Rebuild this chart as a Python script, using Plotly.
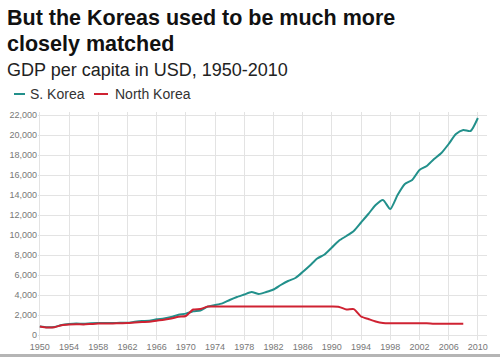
import plotly.graph_objects as go

sk_years = list(range(1950, 2011))
sk_gdp = [850, 770, 800, 1000, 1100, 1150, 1120, 1170, 1190, 1190,
          1200, 1220, 1230, 1320, 1390, 1430, 1570, 1650, 1800, 2030,
          2140, 2380, 2450, 2840, 2990, 3160, 3500, 3800, 4050, 4300,
          4100, 4300, 4550, 5000, 5400, 5700, 6300, 6950, 7650, 8050,
          8750, 9450, 9900, 10400, 11250, 12100, 13000, 13500, 12600, 14000,
          15100, 15500, 16500, 16900, 17600, 18200, 19100, 20100, 20500, 20400,
          21700]

nk_years = list(range(1950, 2009))
nk_gdp = [850, 750, 780, 980, 1050, 1080, 1060, 1100, 1140, 1150,
          1160, 1180, 1190, 1250, 1300, 1330, 1430, 1520, 1640, 1820,
          1900, 2550, 2600, 2840, 2840, 2840, 2840, 2840, 2840, 2840,
          2840, 2840, 2840, 2840, 2840, 2840, 2840, 2840, 2840, 2840,
          2840, 2810, 2560, 2590, 1850, 1600, 1350, 1200, 1170, 1170,
          1170, 1170, 1170, 1170, 1120, 1120, 1120, 1120, 1120]

x_ticks = list(range(1950, 2011, 4))
y_ticks = list(range(0, 22001, 2000))

title_lines = ["But the Koreas used to be much more", "closely matched"]
subtitle = "GDP per capita in USD, 1950-2010"
sk_name = "S. Korea"
nk_name = "North Korea"

SK_COLOR = "#22908b"
NK_COLOR = "#cf2232"
FONT = "Liberation Sans, Arial, Helvetica, sans-serif"

W, H = 500, 358
ML, MR, MT, MB = 38, 13, 112, 18
PH = H - MT - MB
PW = W - ML - MR


def py(pix):
    return (H - MB - pix) / PH


def px(pix):
    return (pix - ML) / PW


fig = go.Figure()
fig.add_trace(go.Scatter(x=sk_years, y=sk_gdp, mode="lines", name=sk_name,
                         line=dict(color=SK_COLOR, width=2, shape="spline", smoothing=0.6),
                         showlegend=False))
fig.add_trace(go.Scatter(x=nk_years, y=nk_gdp, mode="lines", name=nk_name,
                         line=dict(color=NK_COLOR, width=2, shape="spline", smoothing=0.6),
                         showlegend=False))

annotations = [
    dict(text="<b>%s</b>" % title_lines[0], x=px(5), y=py(18), font=dict(size=21.5, color="#111")),
    dict(text="<b>%s</b>" % title_lines[1], x=px(5), y=py(44), font=dict(size=21.5, color="#111")),
    dict(text=subtitle, x=px(5), y=py(70), font=dict(size=18, color="#222")),
    dict(text=sk_name, x=px(28), y=py(94), font=dict(size=14, color="#333")),
    dict(text=nk_name, x=px(113), y=py(94), font=dict(size=14, color="#333")),
]
for a in annotations:
    a.update(xref="paper", yref="paper", xanchor="left", yanchor="middle",
             showarrow=False, align="left")

shapes = [
    dict(type="line", xref="paper", yref="paper", x0=px(14), x1=px(25), y0=py(94), y1=py(94),
         line=dict(color=SK_COLOR, width=2)),
    dict(type="line", xref="paper", yref="paper", x0=px(94), x1=px(108), y0=py(94), y1=py(94),
         line=dict(color=NK_COLOR, width=2)),
    dict(type="line", xref="paper", yref="paper", x0=px(0), x1=px(W), y0=py(355.5), y1=py(355.5),
         line=dict(color="#b5b5b5", width=3)),
]

fig.update_layout(
    width=W, height=H,
    margin=dict(l=ML, r=MR, t=MT, b=MB, autoexpand=False),
    paper_bgcolor="white", plot_bgcolor="white",
    font=dict(family=FONT),
    annotations=annotations,
    shapes=shapes,
    showlegend=False,
)
fig.update_xaxes(range=[1949.75, 2011.25], tickvals=x_ticks, ticktext=[str(v) for v in x_ticks],
                 showgrid=True, gridcolor="#e3e3e3", gridwidth=1, zeroline=False, automargin=False,
                 showline=False, ticks="", tickfont=dict(size=9, color="#777"))
fig.update_yaxes(range=[-500, 22300], tickvals=y_ticks, ticktext=[f"{v:,}" for v in y_ticks],
                 showgrid=True, gridcolor="#e3e3e3", gridwidth=1, zeroline=False, automargin=False,
                 showline=False, ticks="", tickfont=dict(size=9, color="#777"))

fig.write_html("out.html", config={"displayModeBar": False},
               post_script="document.body.style.margin='0';document.body.style.overflow='hidden';")
